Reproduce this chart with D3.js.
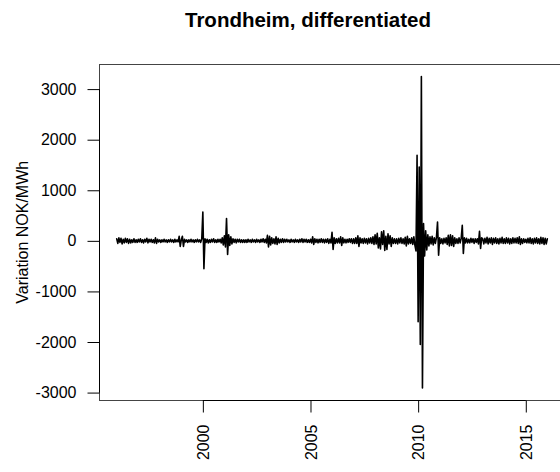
<!DOCTYPE html>
<html>
<head>
<meta charset="utf-8">
<script src="https://cdn.jsdelivr.net/npm/d3@7"></script>
<style>
  html, body { margin: 0; padding: 0; background: #fff; }
  svg { display: block; }
  text { font-family: "Liberation Sans", Arial, Helvetica, sans-serif; fill: #000; }
</style>
</head>
<body>
<svg id="chart" width="560" height="472"></svg>
<script>
// ---- data (regular series: start year, step in years, values in NOK/MWh) ----
const startYear = 1996;
const stepYears = 0.05;
const values = [
  // 1996
  40,-50,60,-30,50,-60,30,-40,50,-30,40,-50,30,-40,20,-30,40,-30,20,-30,
  // 1997
  30,-20,40,-30,20,-40,30,-20,50,-40,30,-20,30,-30,20,-40,60,-50,30,-20,
  // 1998
  20,-30,20,-20,30,-20,20,-30,20,-20,30,-20,20,-30,30,-20,20,-20,90,-110,
  // 1999
  20,90,-110,30,-20,20,-30,20,-20,30,-20,20,-30,20,-20,30,-20,20,-30,40,
  // 2000
  570,-550,40,-30,30,-40,20,-30,30,-20,40,-30,20,-30,30,-20,30,-40,60,-80,
  // 2001
  100,-120,440,-270,120,-90,80,-60,40,-30,30,-40,30,-20,30,-30,20,-30,20,-30,
  // 2002
  20,-30,30,-20,20,-30,30,-20,20,-30,30,-20,20,-30,30,-20,40,-30,30,-40,
  // 2003
  110,-120,90,-80,60,-50,40,-60,80,-70,50,-40,30,-30,40,-30,30,-20,30,-20,
  // 2004
  20,-30,30,-20,20,-30,30,-20,20,-30,30,-20,40,-30,30,-20,30,-30,20,-30,
  // 2005
  30,-40,80,-70,40,-30,30,-40,30,-30,40,-30,30,-40,30,-30,40,-50,30,-40,
  // 2006
  170,-170,60,-50,40,-40,50,-40,80,-90,60,-40,30,-40,30,-30,40,-30,40,-50,
  // 2007
  40,-50,60,-50,100,-110,60,-40,40,-50,50,-40,40,-60,50,-40,60,-50,80,-70,
  // 2008
  120,-60,150,-140,60,-160,180,-70,200,-190,90,-170,140,-60,100,-110,60,-50,40,-50,
  // 2009
  40,-60,50,-40,60,-50,40,-60,70,-100,90,-60,40,-50,60,-70,80,-90,-200,1690,
  // 2010
  -1600,1460,-2050,3250,-2910,340,-300,200,-180,120,-100,80,-60,90,-80,60,-50,70,370,-285,
  // 2011
  60,-50,40,-60,50,-40,60,-70,110,-100,120,-90,100,-110,60,-50,40,-50,60,-40,
  // 2012
  50,305,-250,60,-40,50,-40,30,-40,50,-30,40,-50,40,-30,40,-60,190,-150,60,
  // 2013
  40,-60,50,-40,70,-60,50,-40,60,-70,50,-40,60,-50,40,-60,50,-40,70,-50,
  // 2014
  40,-50,60,-40,50,-60,40,-50,60,-40,50,-40,60,-50,80,-70,40,-50,40,-30,
  // 2015
  30,-40,50,-40,60,-50,40,-60,50,-40,60,-50,40,-60,70,-50,60,-70,50,-60,
  // 2016
  40
];
const xTicks = [2000, 2005, 2010, 2015];
const yTicks = [-3000, -2000, -1000, 0, 1000, 2000, 3000];
const titleText = "Trondheim, differentiated";
const yLabel = "Variation NOK/MWh";

// ---- layout ----
const svg = d3.select("#chart");
const plot = { left: 99.5, top: 64, bottom: 400.5 };
const series = values.map((v, i) => ({ t: startYear + i * stepYears, v }));

// R-style 4% axis extension
const tExt = d3.extent(series, d => d.t);
const vExt = d3.extent(series, d => d.v);
const tPad = (tExt[1] - tExt[0]) * 0.04;
const vPad = (vExt[1] - vExt[0]) * 0.04;
const pxPerYear = 21.53;
const plotRight = plot.left + (tExt[1] - tExt[0] + 2 * tPad) * pxPerYear;

const x = d3.scaleLinear().domain([tExt[0] - tPad, tExt[1] + tPad]).range([plot.left, plotRight]);
const y = d3.scaleLinear().domain([vExt[0] - vPad, vExt[1] + vPad]).range([plot.bottom, plot.top]);

// series line
svg.append("path")
  .datum(series)
  .attr("fill", "none")
  .attr("stroke", "#000")
  .attr("stroke-width", 1.6)
  .attr("stroke-linejoin", "round")
  .attr("stroke-linecap", "round")
  .attr("d", d3.line().x(d => x(d.t)).y(d => y(d.v)));

// box
svg.append("rect")
  .attr("x", plot.left).attr("y", plot.top + 0.5)
  .attr("width", plotRight - plot.left).attr("height", plot.bottom - plot.top - 0.5)
  .attr("fill", "none").attr("stroke", "#444").attr("stroke-width", 1);

// left axis
const gy = svg.append("g").attr("transform", `translate(${plot.left},0)`)
  .call(d3.axisLeft(y).tickValues(yTicks).tickSize(12).tickPadding(11).tickFormat(d3.format("d")));
gy.select(".domain").remove();
gy.append("line").attr("x1", 0).attr("x2", 0)
  .attr("y1", y(yTicks[0])).attr("y2", y(yTicks[yTicks.length - 1])).attr("stroke", "#000");
gy.selectAll(".tick line").attr("stroke", "#000");
gy.selectAll(".tick text").style("font-size", "16px").attr("fill", "#000")
  .text(d => d < 0 ? "-" + Math.abs(d) : String(d));

// bottom axis
const gx = svg.append("g").attr("transform", `translate(0,${plot.bottom})`)
  .call(d3.axisBottom(x).tickValues(xTicks).tickSize(12).tickFormat(d3.format("d")));
gx.select(".domain").remove();
gx.append("line").attr("y1", 0).attr("y2", 0)
  .attr("x1", x(xTicks[0])).attr("x2", x(xTicks[xTicks.length - 1])).attr("stroke", "#000");
gx.selectAll(".tick line").attr("stroke", "#000");
gx.selectAll(".tick text")
  .style("font-size", "16px").attr("fill", "#000")
  .attr("text-anchor", "end")
  .attr("y", 0).attr("dy", "0.35em")
  .attr("transform", "translate(0,24) rotate(-90)");

// title
svg.append("text")
  .attr("x", 308).attr("y", 27)
  .attr("text-anchor", "middle")
  .style("font-size", "20.5px").style("font-weight", "bold")
  .text(titleText);

// y label
svg.append("text")
  .attr("transform", `translate(28,${(plot.top + plot.bottom) / 2}) rotate(-90)`)
  .attr("text-anchor", "middle")
  .style("font-size", "16px")
  .text(yLabel);
</script>
</body>
</html>
